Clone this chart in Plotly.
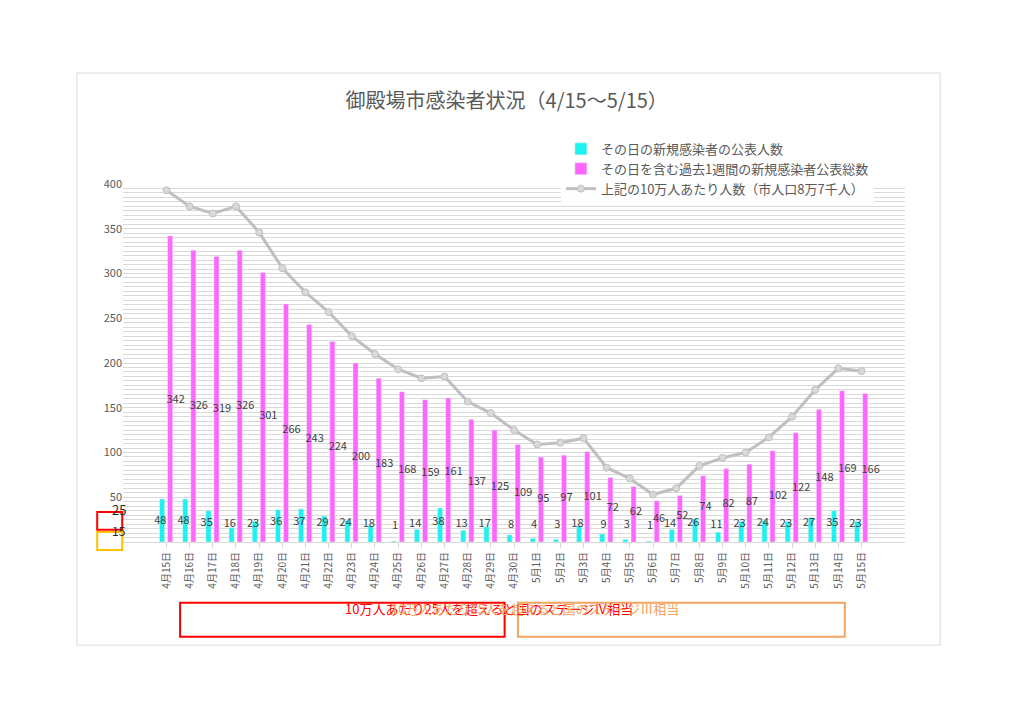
import plotly.graph_objects as go

dates = [f"4月{d}日" for d in range(15, 31)] + [f"5月{d}日" for d in range(1, 16)]
daily = [48,48,35,16,23,36,37,29,24,18,1,14,38,13,17,8,4,3,18,9,3,1,14,26,11,23,24,23,27,35,23]
weekly = [342,326,319,326,301,266,243,224,200,183,168,159,161,137,125,109,95,97,101,72,62,46,52,74,82,87,102,122,148,169,166]
per100k = [393,375,367,375,346,306,279,257,230,210,193,183,185,157,144,125,109,111,116,83,71,53,60,85,94,100,117,140,170,194,191]

fig = go.Figure()
fig.add_bar(x=dates, y=daily, name="その日の新規感染者の公表人数", marker_color="#1DF2F0",
            width=0.22, offset=-0.3)
fig.add_bar(x=dates, y=weekly, name="その日を含む過去1週間の新規感染者公表総数", marker_color="#FF66FF",
            width=0.22, offset=0.05)
fig.add_scatter(x=dates, y=per100k, mode="lines+markers", name="上記の10万人あたり人数（市人口8万7千人）",
                line=dict(color="#BFBFBF", width=3), marker=dict(color="#D9D9D9", size=7, line=dict(color="#BFBFBF", width=1)))
# data labels
fig.add_scatter(x=dates, y=[0.1 * v + 18 for v in daily], mode="text", text=[str(v) for v in daily],
                textposition="middle left", textfont=dict(color="#404040", size=11), showlegend=False, hoverinfo="skip")
fig.add_scatter(x=dates, y=[0.45 * v + 5 for v in weekly], mode="text", text=[str(v) for v in weekly],
                textposition="middle right", textfont=dict(color="#404040", size=11), showlegend=False, hoverinfo="skip")

fig.update_layout(
    width=1024, height=724, paper_bgcolor="white", plot_bgcolor="white",
    font=dict(family="Noto Sans CJK JP", color="#595959"),
    title=dict(text="御殿場市感染者状況（4/15～5/15）", x=0.487, y=0.872, xanchor="center", yanchor="middle",
               font=dict(size=20, color="#595959")),
    margin=dict(l=115, r=127, t=176, b=190),
    barmode="overlay", showlegend=True,
    legend=dict(x=0.56, y=1.14, xanchor="left", yanchor="top", bgcolor="rgba(255,255,255,0.95)",
                font=dict(size=13, color="#595959"), tracegroupgap=6),
    xaxis=dict(tickangle=-90, tickfont=dict(size=10), showgrid=False, ticks="outside",
               tickcolor="#D9D9D9", showline=True, linecolor="#D9D9D9"),
    yaxis=dict(range=[0, 400], showgrid=True, gridcolor="#D9D9D9", gridwidth=1,
               tickvals=[50,100,150,200,250,300,350,400], tickfont=dict(size=11), zeroline=False,
               minor=dict(dtick=5, showgrid=True, gridcolor="#D9D9D9", gridwidth=1)),
    shapes=[
        dict(type="rect", xref="paper", yref="paper", x0=-0.059, x1=1.045, y0=-0.288, y1=1.31,
             line=dict(color="#D9D9D9", width=1)),
        dict(type="rect", xref="paper", yref="paper", x0=0.073, x1=0.488, y0=-0.265, y1=-0.170,
             line=dict(color="#FF0000", width=2)),
        dict(type="rect", xref="paper", yref="paper", x0=0.505, x1=0.923, y0=-0.265, y1=-0.170,
             line=dict(color="#F4A460", width=2)),
        dict(type="rect", xref="paper", yref="paper", x0=-0.033, x1=-0.001, y0=0.034, y1=0.084,
             line=dict(color="#FF0000", width=2), fillcolor="white"),
        dict(type="rect", xref="paper", yref="paper", x0=-0.033, x1=-0.001, y0=-0.022, y1=0.028,
             line=dict(color="#FFC000", width=2), fillcolor="white"),
    ],
    annotations=[
        dict(text="10万人あたり25人を超えると国のステージⅣ相当", xref="paper", yref="paper", x=0.281, y=-0.218,
             showarrow=False, font=dict(color="#FF0000", size=13)),
        dict(text="10万人あたり15人を超えると国のステージⅢ相当", xref="paper", yref="paper", x=0.714, y=-0.218,
             showarrow=False, font=dict(color="#F4A460", size=13)),
        dict(text="25", xref="paper", yref="paper", x=-0.017, y=0.059, showarrow=False,
             font=dict(color="#262626", size=13)),
        dict(text="15", xref="paper", yref="paper", x=-0.017, y=0.003, showarrow=False,
             font=dict(color="#262626", size=12)),
    ],
)
fig.write_html("out.html")
